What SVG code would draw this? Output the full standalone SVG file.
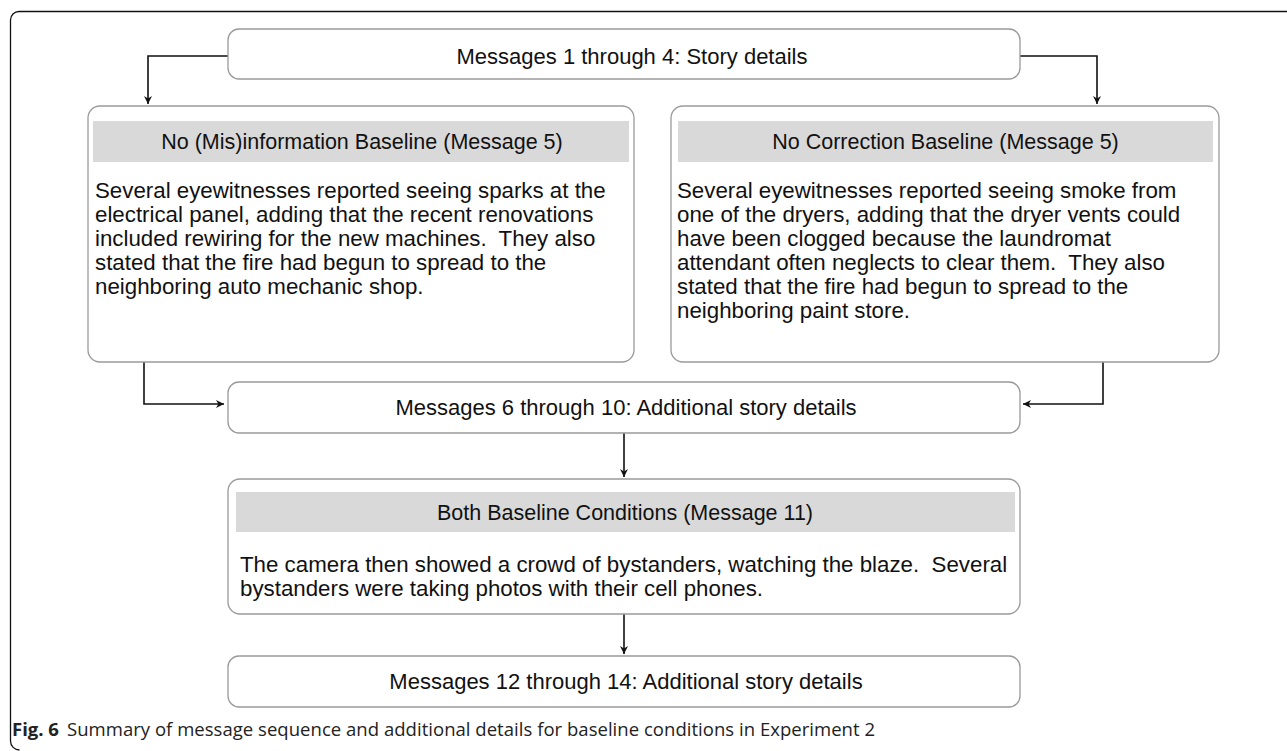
<svg xmlns="http://www.w3.org/2000/svg" width="1287" height="751" viewBox="0 0 1287 751">
<defs>
<marker id="ah" viewBox="0 0 10 10" refX="10" refY="5" markerWidth="8" markerHeight="8" markerUnits="userSpaceOnUse" orient="auto">
<path d="M0,0 L10,5 L0,10 L3,5 Z" fill="#111"/>
</marker>
<style>
.box{fill:#fff;stroke:#9a9a9a;stroke-width:1.3}
.hdr{fill:#d9d9d9}
.t{font-family:"Liberation Sans",Arial,Helvetica,sans-serif;font-size:22px;fill:#111}
.h{font-size:21.5px}
.b{font-size:22.3px}
.c{text-anchor:middle}
.con{fill:none;stroke:#111;stroke-width:1.6}
.cap{font-family:"Open Sans","Noto Sans",sans-serif;font-size:18.5px;fill:#222}
</style>
</defs>
<rect width="1287" height="751" fill="#fff"/>
<path d="M1287,11.5 H19 A8.5,8.5 0 0 0 10.5,20 V741 A9,9 0 0 0 19.5,750" fill="none" stroke="#111" stroke-width="1.3"/>

<g id="connectors">
<path class="con" d="M228,56 H148 V104" marker-end="url(#ah)"/>
<path class="con" d="M1020,56 H1097 V104" marker-end="url(#ah)"/>
<path class="con" d="M144,362 V404 H224" marker-end="url(#ah)"/>
<path class="con" d="M1103,362 V404 H1023" marker-end="url(#ah)"/>
<path class="con" d="M624,433 V477" marker-end="url(#ah)"/>
<path class="con" d="M624,614 V654" marker-end="url(#ah)"/>
</g>

<g id="n1">
<rect class="box" x="228" y="29" width="792" height="50" rx="11"/>
<text class="t c" x="632" y="64">Messages 1 through 4: Story details</text>
</g>

<g id="n2">
<rect class="box" x="88" y="106" width="546" height="256" rx="12"/>
<rect class="hdr" x="93" y="121" width="536" height="41"/>
<text class="t h c" x="362" y="149">No (Mis)information Baseline (Message 5)</text>
<g class="t b">
<text x="95" y="198">Several eyewitnesses reported seeing sparks at the</text>
<text x="95" y="222">electrical panel, adding that the recent renovations</text>
<text x="95" y="246">included rewiring for the new machines.&#160; They also</text>
<text x="95" y="270">stated that the fire had begun to spread to the</text>
<text x="95" y="294">neighboring auto mechanic shop.</text>
</g>
</g>

<g id="n3">
<rect class="box" x="671" y="106" width="548" height="256" rx="12"/>
<rect class="hdr" x="678" y="121" width="535" height="41"/>
<text class="t h c" x="945.5" y="149">No Correction Baseline (Message 5)</text>
<g class="t b">
<text x="677" y="198">Several eyewitnesses reported seeing smoke from</text>
<text x="677" y="222">one of the dryers, adding that the dryer vents could</text>
<text x="677" y="246">have been clogged because the laundromat</text>
<text x="677" y="270">attendant often neglects to clear them.&#160; They also</text>
<text x="677" y="294">stated that the fire had begun to spread to the</text>
<text x="677" y="318">neighboring paint store.</text>
</g>
</g>

<g id="n4">
<rect class="box" x="228" y="382" width="792" height="51" rx="11"/>
<text class="t c" x="626" y="415">Messages 6 through 10: Additional story details</text>
</g>

<g id="n5">
<rect class="box" x="228" y="479" width="792" height="135" rx="12"/>
<rect class="hdr" x="236" y="492" width="779" height="40"/>
<text class="t h c" x="625" y="520">Both Baseline Conditions (Message 11)</text>
<g class="t b">
<text x="240" y="572">The camera then showed a crowd of bystanders, watching the blaze.&#160; Several</text>
<text x="240" y="596">bystanders were taking photos with their cell phones.</text>
</g>
</g>

<g id="n6">
<rect class="box" x="228" y="656" width="792" height="51" rx="11"/>
<text class="t c" x="626" y="689">Messages 12 through 14: Additional story details</text>
</g>

<g id="caption">
<text class="cap" x="12" y="736" font-weight="bold">Fig. 6</text>
<text class="cap" x="67" y="736" textLength="808" lengthAdjust="spacing">Summary of message sequence and additional details for baseline conditions in Experiment 2</text>
</g>
</svg>
